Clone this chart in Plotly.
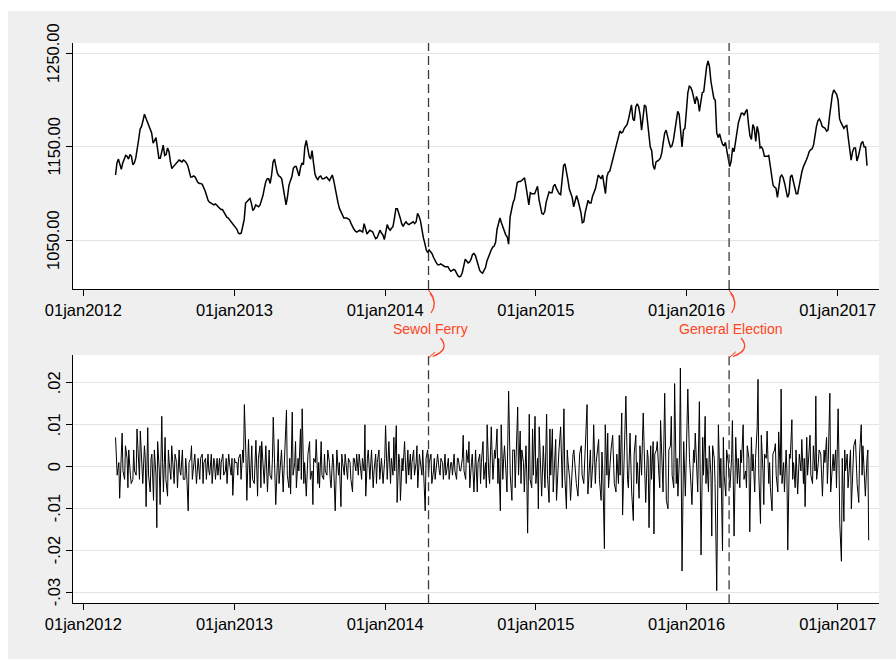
import pandas as pd
import plotly.graph_objects as go

W, H = 896, 659
FONT = "Liberation Sans, Arial, Helvetica, sans-serif"
RED = "#ff4422"

# KRW/USD exchange rate, twice a week (every 3.5 days) from 19 Mar 2012
level_start = "2012-03-19"
level = [
    1120, 1133, 1137, 1130, 1126, 1133, 1138, 1141, 1140, 1137,
    1142, 1140, 1131, 1133, 1138, 1146, 1158, 1169, 1172, 1178,
    1185, 1181, 1177, 1172, 1168, 1165, 1154, 1158, 1160, 1149,
    1138, 1138, 1144, 1152, 1141, 1142, 1149, 1145, 1134, 1127,
    1129, 1131, 1133, 1134, 1136, 1135, 1134, 1136, 1135, 1133,
    1130, 1124, 1118, 1118, 1119, 1118, 1115, 1112, 1111, 1111,
    1110, 1107, 1103, 1098, 1093, 1091, 1090, 1089, 1088, 1089,
    1088, 1086, 1084, 1083, 1083, 1080, 1078, 1075, 1074, 1072,
    1071, 1069, 1067, 1065, 1062, 1058, 1057, 1058, 1064, 1072,
    1090, 1092, 1093, 1095, 1090, 1082, 1084, 1088, 1087, 1086,
    1088, 1092, 1098, 1106, 1113, 1116, 1116, 1111, 1120, 1134,
    1137, 1129, 1122, 1119, 1118, 1116, 1105, 1097, 1088, 1097,
    1109, 1114, 1118, 1127, 1129, 1129, 1124, 1119, 1128, 1133,
    1131, 1150, 1157, 1146, 1140, 1137, 1146, 1133, 1121, 1117,
    1115, 1118, 1119, 1116, 1116, 1117, 1118, 1116, 1114, 1117,
    1120, 1114, 1106, 1095, 1090, 1084, 1080, 1076, 1074, 1074,
    1074, 1073, 1072, 1068, 1064, 1062, 1060, 1059, 1060, 1061,
    1060, 1059, 1068, 1063, 1057, 1059, 1061, 1060, 1059, 1055,
    1052, 1053, 1058, 1061, 1058, 1056, 1051, 1060, 1067, 1063,
    1061, 1063, 1065, 1074, 1084, 1084, 1080, 1074, 1068, 1065,
    1068, 1070, 1068, 1067, 1068, 1069, 1070, 1068, 1070, 1079,
    1076, 1071, 1060, 1053, 1047, 1040, 1037, 1040, 1038, 1036,
    1032, 1028, 1026, 1024, 1024, 1025, 1024, 1023, 1022, 1022,
    1022, 1019, 1017, 1018, 1019, 1018, 1015, 1012, 1011, 1012,
    1016, 1024, 1030, 1028, 1026, 1027, 1030, 1035, 1036, 1034,
    1028, 1022, 1018, 1016, 1015, 1018, 1021, 1028, 1033, 1036,
    1040, 1043, 1044, 1048, 1062, 1069, 1074, 1069, 1064, 1059,
    1056, 1054, 1046, 1075, 1083, 1090, 1094, 1102, 1112, 1113,
    1113, 1114, 1116, 1117, 1108, 1095, 1088, 1101, 1100, 1100,
    1100, 1104, 1108, 1094, 1086, 1079, 1078, 1081, 1091, 1097,
    1102, 1101, 1101, 1108, 1110, 1106, 1103, 1100, 1099, 1116,
    1130, 1132, 1125, 1115, 1105, 1101, 1096, 1086, 1092, 1098,
    1093, 1086, 1080, 1069, 1070, 1080, 1087, 1093, 1090, 1090,
    1097, 1101, 1105, 1112, 1120, 1118, 1116, 1120, 1112, 1100,
    1118, 1123, 1124, 1130, 1135, 1142, 1148, 1156, 1162, 1167,
    1165, 1166, 1170, 1172, 1174, 1180, 1187, 1195, 1180, 1178,
    1193, 1196, 1193, 1184, 1168, 1180, 1195, 1193, 1178, 1163,
    1150, 1146, 1130, 1126, 1134, 1135, 1136, 1138, 1144, 1155,
    1165, 1168, 1160, 1155, 1150, 1151, 1157, 1167, 1182, 1188,
    1185, 1162, 1150, 1168, 1170, 1188, 1208, 1215, 1214, 1210,
    1204, 1196, 1204, 1200, 1188, 1198, 1208, 1209, 1224, 1236,
    1242, 1236, 1220, 1208, 1202, 1200, 1165, 1160, 1164, 1158,
    1153, 1151, 1155, 1146, 1137, 1129, 1135, 1149, 1145, 1155,
    1168, 1176, 1181, 1186, 1186, 1184, 1188, 1190, 1174, 1162,
    1158, 1174, 1170, 1156, 1172, 1165, 1149, 1150, 1147, 1140,
    1140, 1140, 1141, 1130, 1118, 1109, 1107, 1106, 1096, 1110,
    1118, 1120, 1117, 1111, 1101, 1096, 1100, 1118, 1120, 1114,
    1105, 1100, 1100, 1108, 1118, 1124, 1129, 1132, 1136, 1140,
    1145, 1147, 1148, 1152, 1163, 1172, 1178, 1180, 1177, 1172,
    1171, 1170, 1167, 1168, 1182, 1195, 1206, 1211, 1209, 1206,
    1200, 1180, 1176, 1172, 1170, 1172, 1173, 1160, 1146, 1136,
    1145, 1149, 1149, 1135, 1140, 1148, 1154, 1156, 1150, 1150,
    1130,
]

# Daily log returns, one every second business day from 19 Mar 2012
ret_start = "2012-03-19"
returns = [
    # 2012
    0.007, 0.002, -0.002, 0.001, -0.0075, 0.003, 0.008, -0.001, -0.003, 0.005, 0.002, -0.005, 0.004, -0.002, -0.004,
    -0.003, 0.004, -0.001, -0.002, 0.009, -0.002, -0.003, 0.0085, 0.001, -0.004, 0.005, 0.002, -0.0095, 0.0093, -0.002,
    -0.006, 0.002, 0.003, -0.008, 0.004, -0.002, -0.0145, 0.006, -0.001, -0.009, 0.012, 0.001, -0.006, 0.007, -0.003,
    -0.007, 0.004, 0.001, -0.003, 0.005, -0.002, -0.004, 0.003, 0.001, -0.005, 0.004, -0.001, -0.002, 0.004, -0.003,
    -0.003, 0.002, -0.001, -0.0105, 0.001, 0.002, 0.005, -0.003, 0.001, 0.003, -0.004, -0.001, 0.002, -0.003, 0.002,
    0.003, -0.004, 0.001, 0.002, -0.003, 0.003, -0.001, -0.002, 0.003, -0.004, 0.002, 0.001, -0.003, 0.002, -0.002,
    0.002, -0.003, 0.001, 0.003, -0.002, -0.001, 0.002, -0.004, 0.003, 0.001, -0.002, 0.002, -0.0068, 0.002, 0.001,
    # 2013
    0.001, -0.002, 0.002, 0.003, -0.003, 0.004, 0.001, 0.0148, 0.002, -0.008, 0.0065, -0.002, -0.005, 0.005, -0.003,
    -0.004, 0.001, 0.0063, -0.007, 0.002, 0.005, -0.005, 0.006, -0.002, -0.004, 0.005, 0.001, -0.006, 0.004, -0.002,
    -0.003, 0.002, 0.0118, -0.002, -0.009, 0.001, 0.0065, -0.004, 0.002, 0.004, -0.006, -0.001, 0.003, 0.0135, -0.002,
    -0.005, 0.002, -0.0065, 0.013, -0.002, 0.001, 0.006, -0.005, 0.002, -0.001, 0.009, -0.003, 0.0138, -0.004, 0.001,
    -0.007, 0.002, 0.003, 0.006, -0.003, -0.001, -0.009, 0.002, 0.001, 0.0065, -0.004, 0.001, -0.005, 0.006, -0.002,
    -0.003, 0.003, -0.001, -0.002, 0.004, 0.001, -0.003, -0.005, 0.003, 0.001, -0.0105, 0.002, 0.004, -0.002, 0.001,
    -0.0095, 0.003, 0.001, -0.002, 0.003, -0.001, -0.003, 0.002, 0.001, -0.003, -0.006, 0.002, 0.002, -0.001, 0.003,
    -0.002, 0.003, 0.001, -0.003, 0.002, -0.001, 0.01, -0.007, 0.002, 0.004, -0.003, 0.001, 0.004, -0.005, -0.001,
    0.003, -0.004, 0.001, 0.004, -0.003, 0.002, -0.001, -0.004, 0.002, 0.0098, -0.003, 0.001, 0.006, -0.004, 0.002,
    # 2014
    -0.002, 0.007, -0.001, 0.0098, -0.0085, 0.003, 0.001, -0.008, 0.002, -0.001, 0.006, 0.002, -0.004, 0.004, -0.002,
    0.003, -0.003, 0.001, 0.004, -0.002, 0.001, 0.005, -0.005, 0.003, 0.001, -0.002, 0.004, -0.001, -0.0105, 0.002,
    0.004, -0.002, 0.001, 0.003, -0.004, -0.001, 0.002, -0.003, 0.001, 0.003, -0.001, -0.002, 0.002, 0.001, -0.003,
    0.003, -0.002, -0.001, 0.002, -0.003, 0.001, 0.001, -0.002, 0.003, -0.001, -0.003, 0.002, 0.002, -0.001, -0.001,
    0.002, 0.0075, -0.001, -0.003, 0.004, 0.001, 0.006, -0.005, 0.001, 0.003, -0.006, 0.002, 0.004, -0.006, 0.001,
    0.003, -0.004, 0.001, 0.006, -0.003, 0.001, -0.005, 0.01, -0.002, -0.004, 0.0095, -0.001, -0.003, 0.004, 0.002,
    0.009, -0.004, 0.002, -0.0105, 0.01, -0.003, 0.002, 0.005, -0.002, -0.006, 0.018, 0.003, -0.002, -0.008, 0.004,
    0.004, -0.005, 0.002, 0.0142, -0.002, 0.0085, -0.004, 0.004, 0.001, -0.006, 0.005, -0.002, -0.0158, 0.0125, -0.003,
    # 2015
    -0.005, 0.009, -0.002, 0.012, -0.004, 0.002, -0.01, 0.0095, 0.001, -0.007, 0.005, -0.001, -0.005, 0.0125, -0.002,
    -0.0085, 0.009, -0.002, 0.009, -0.006, 0.002, 0.0065, -0.008, 0.001, 0.004, 0.0095, -0.003, -0.005, 0.0138, -0.002,
    -0.01, 0.004, 0.001, -0.003, -0.008, 0.002, 0.003, 0.004, -0.002, -0.004, -0.007, 0.002, 0.003, 0.005, -0.002,
    -0.004, 0.002, 0.005, 0.0148, -0.0065, 0.002, 0.004, -0.005, 0.001, 0.01, -0.004, 0.001, 0.003, 0.0065, -0.003,
    -0.008, 0.0035, -0.001, -0.0195, 0.01, -0.002, 0.008, -0.005, 0.002, 0.004, 0.0075, -0.002, -0.004, -0.006, 0.003,
    -0.004, 0.0075, -0.002, 0.0128, -0.0115, 0.002, 0.0115, 0.0168, -0.003, -0.005, 0.008, 0.001, -0.006, -0.0128, 0.003,
    0.0075, -0.004, 0.001, -0.0075, 0.005, -0.002, 0.006, 0.0128, -0.002, -0.0085, 0.004, 0.002, -0.0145, 0.005, -0.003,
    0.006, -0.016, 0.003, 0.004, 0.006, -0.002, -0.005, 0.011, 0.002, -0.006, 0.0175, -0.003, -0.008, -0.01, 0.004,
    0.005, 0.012, -0.002, -0.005, 0.0198, -0.004, 0.002, -0.007, 0.003, 0.0235, -0.0248, 0.002, 0.006, -0.007, 0.003,
    # 2016
    0.0185, 0.01, 0.002, -0.005, -0.009, 0.004, 0.001, 0.008, -0.002, -0.006, 0.0155, 0.002, -0.021, 0.007, -0.002,
    0.012, -0.004, 0.002, -0.006, 0.005, -0.002, -0.0165, 0.005, 0.002, -0.004, -0.0295, 0.003, 0.01, -0.005, 0.002,
    -0.02, 0.007, -0.002, -0.007, 0.004, 0.001, -0.003, -0.005, 0.002, 0.011, -0.0165, 0.003, 0.007, -0.004, 0.002,
    -0.005, 0.004, 0.001, 0.01, -0.003, -0.001, -0.005, 0.005, 0.002, -0.0155, 0.007, -0.001, 0.003, -0.006, 0.002,
    0.0095, 0.0208, -0.002, -0.0135, 0.0075, -0.001, -0.009, 0.003, 0.002, 0.0085, -0.004, 0.001, -0.005, -0.0105, 0.003,
    0.004, 0.0055, -0.002, -0.006, 0.0083, -0.002, 0.0185, -0.004, 0.001, -0.006, 0.004, -0.001, -0.0198, 0.003, 0.002,
    0.0112, -0.003, 0.001, -0.005, 0.004, -0.0065, 0.002, 0.003, -0.001, 0.0065, -0.004, 0.002, -0.0095, 0.007, -0.002,
    0.003, 0.0075, -0.002, -0.004, 0.005, -0.001, 0.0168, -0.003, 0.001, 0.004, 0.003, -0.002, -0.007, 0.004, 0.001,
    0.007, -0.004, 0.001, 0.0175, -0.006, 0.002, 0.003, -0.001, 0.004, -0.005, 0.0138, 0.002, -0.0135, -0.0225, 0.002,
    # 2017
    -0.013, 0.004, -0.001, 0.003, -0.005, 0.002, 0.004, -0.01, 0.002, 0.005, 0.0065, -0.002, -0.004, -0.0085, 0.003,
    0.01, -0.002, 0.005, -0.003, -0.007, 0.002, 0.004, -0.0175,
]

tick_dates = ["2012-01-01", "2013-01-01", "2014-01-01",
              "2015-01-01", "2016-01-01", "2017-01-01"]
tick_text = ["01jan2012", "01jan2013", "01jan2014",
             "01jan2015", "01jan2016", "01jan2017"]

level_ticks = [1050, 1150, 1250]
level_tick_text = ["1050.00", "1150.00", "1250.00"]
ret_ticks = [-0.03, -0.02, -0.01, 0, 0.01, 0.02]
ret_tick_text = ["-.03", "-.02", "-.01", "0", ".01", ".02"]

event_dates = ["2014-04-16", "2016-04-13"]
event_labels = ["Sewol Ferry", "General Election"]

level_dates = pd.date_range(level_start, periods=len(level), freq="84h")
ret_dates = pd.bdate_range(ret_start, periods=len(returns), freq="2B")


def fx(p):
    return p / W


def fy(p):
    return 1 - p / H


# plot-area boxes in pixels: left, top, right, bottom
TOP_BOX = (73, 43, 879, 289)
BOT_BOX = (73, 355, 879, 603.3)
X_RANGE = ["2011-12-07", "2017-04-11"]
TICK_SIZE = 16.5

fig = go.Figure()
fig.add_trace(go.Scatter(
    x=level_dates, y=level, mode="lines",
    line=dict(color="black", width=1.5),
    xaxis="x", yaxis="y", hoverinfo="skip", showlegend=False,
))
fig.add_trace(go.Scatter(
    x=ret_dates, y=returns, mode="lines",
    line=dict(color="black", width=1.0),
    xaxis="x2", yaxis="y2", hoverinfo="skip", showlegend=False,
))

axis_style = dict(
    showline=True, linecolor="black", linewidth=1,
    ticks="outside", ticklen=6, tickwidth=1, tickcolor="black",
    tickfont=dict(family=FONT, size=TICK_SIZE, color="black"),
    zeroline=False, automargin=False,
)
x_style = dict(axis_style, type="date", range=X_RANGE, tickvals=tick_dates,
               ticktext=tick_text, showgrid=False, tickangle=0)
# vertical y labels are placed as rotated annotations below
y_grid = dict(showgrid=True, gridcolor="#e4e4e4", gridwidth=1, showticklabels=False)

fig.update_layout(
    width=W, height=H,
    margin=dict(l=0, r=0, t=0, b=0, pad=0, autoexpand=False),
    paper_bgcolor="white", plot_bgcolor="white",
    showlegend=False,
    xaxis=dict(x_style, domain=[fx(TOP_BOX[0]), fx(TOP_BOX[2])], anchor="y"),
    yaxis=dict(axis_style, **y_grid, domain=[fy(TOP_BOX[3]), fy(TOP_BOX[1])],
               anchor="x", range=[998.1, 1261.2], tickvals=level_ticks),
    xaxis2=dict(x_style, domain=[fx(BOT_BOX[0]), fx(BOT_BOX[2])], anchor="y2"),
    yaxis2=dict(axis_style, **y_grid, domain=[fy(BOT_BOX[3]), fy(BOT_BOX[1])],
                anchor="x2", range=[-0.0325, 0.0266], tickvals=ret_ticks),
)

shapes = []
# graph region background and white plot regions
shapes.append(dict(type="rect", xref="paper", yref="paper", layer="below",
                   x0=fx(8), x1=1, y0=0, y1=fy(11),
                   fillcolor="#efefef", line=dict(width=0)))
for box in (TOP_BOX, BOT_BOX):
    shapes.append(dict(type="rect", xref="paper", yref="paper", layer="below",
                       x0=fx(box[0]), x1=fx(box[2]), y0=fy(box[3]), y1=fy(box[1]),
                       fillcolor="white", line=dict(width=0)))

# dashed event lines in both panels
for d in event_dates:
    for xr, yr in (("x", "y domain"), ("x2", "y2 domain")):
        shapes.append(dict(type="line", xref=xr, yref=yr, x0=d, x1=d, y0=0, y1=1,
                           line=dict(color="#3a3a3a", width=1.3, dash="9px,5px")))


def pix_path(cmds):
    """Path in pixels: x relative to the event date, y measured from the top."""
    parts = []
    for c, pts in cmds:
        coords = " ".join(f"{dx},{H - y}" for dx, y in pts)
        parts.append(f"{c} {coords}".strip())
    return " ".join(parts)


for d in event_dates:
    common = dict(type="path", xref="x", yref="paper",
                  xsizemode="pixel", ysizemode="pixel", xanchor=d, yanchor=0)
    # curved arrow up to the upper panel
    shapes.append(dict(common, path=pix_path([("M", [(2.5, 313)]),
                                              ("Q", [(9.5, 303), (1.5, 293)])]),
                       line=dict(color=RED, width=1.3)))
    shapes.append(dict(common, path=pix_path([("M", [(0, 290)]),
                                              ("L", [(4.5, 296.5), (0.5, 295), (-2.5, 296)]),
                                              ("Z", [])]),
                       fillcolor=RED, line=dict(color=RED, width=0.8)))
    # curved arrow down to the lower panel
    shapes.append(dict(common, path=pix_path([("M", [(12, 338)]),
                                              ("Q", [(22, 350), (4, 356.5)])]),
                       line=dict(color=RED, width=1.3)))
    shapes.append(dict(common, path=pix_path([("M", [(0.5, 357.5)]),
                                              ("L", [(6.5, 352), (4.5, 356), (7, 360.5)]),
                                              ("Z", [])]),
                       fillcolor=RED, line=dict(color=RED, width=0.8)))

annotations = []
for d, lab in zip(event_dates, event_labels):
    annotations.append(dict(x=d, xref="x", y=fy(329.3), yref="paper",
                            text=lab, showarrow=False, xshift=2,
                            font=dict(family=FONT, size=14, color=RED),
                            xanchor="center", yanchor="middle"))

# rotated y tick labels, centred on their ticks
for yref, vals, texts in (("y", level_ticks, level_tick_text),
                          ("y2", ret_ticks, ret_tick_text)):
    for v, t in zip(vals, texts):
        annotations.append(dict(x=fx(53.5), xref="paper", y=v, yref=yref,
                                text=t, showarrow=False, textangle=-90,
                                xanchor="center", yanchor="middle",
                                font=dict(family=FONT, size=TICK_SIZE, color="black")))

fig.update_layout(shapes=shapes, annotations=annotations)
fig.write_html("out.html")
